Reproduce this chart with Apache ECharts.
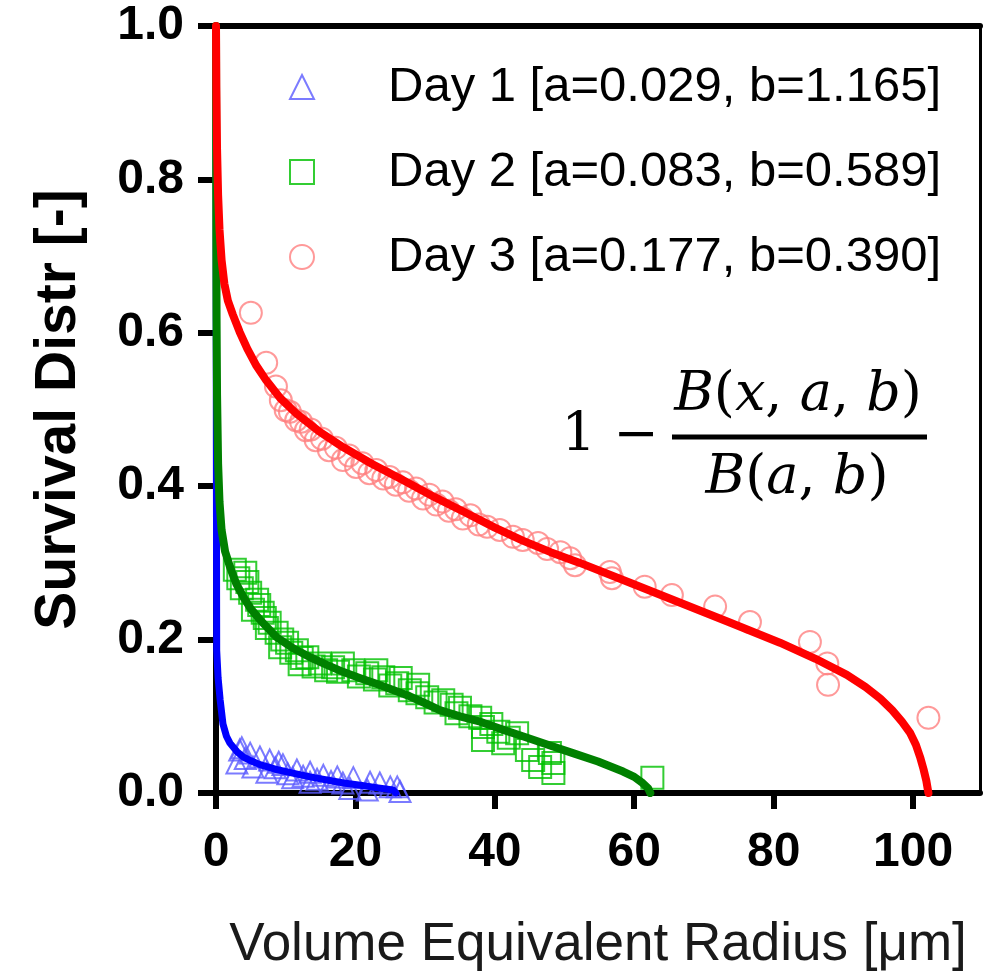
<!DOCTYPE html>
<html lang="en">
<head>
  <meta charset="utf-8">
  <title>Survival Distr</title>
  <script type="text/javascript" src="https://cdn.jsdelivr.net/npm/echarts@6/dist/echarts.min.js"></script>
  <style type="text/css">
    * { margin: 0; padding: 0; }
    html, body, #chart { width: 100%; height: 100%; overflow: hidden; background: #fff; }
  </style>
</head>
<body>
  <div id="chart"></div>
  <script type="text/javascript">
    // legend names
    var seriesNames = [
      'Day 1 [a=0.029, b=1.165]',
      'Day 2 [a=0.083, b=0.589]',
      'Day 3 [a=0.177, b=0.390]'
    ];
    var xTicks = [0, 20, 40, 60, 80, 100];

    var day1Points = [
      [3.4, 0.056], [3.7, 0.059], [3.0, 0.039], [4.2, 0.045], [4.9, 0.052], [6.3, 0.047],
      [7.7, 0.043], [5.3, 0.034], [7.3, 0.027], [8.5, 0.033], [9.0, 0.040], [9.6, 0.037],
      [10.3, 0.025], [11.6, 0.030], [11.0, 0.020], [12.5, 0.022], [13.5, 0.027], [13.5, 0.014],
      [14.5, 0.018], [15.4, 0.023], [16.5, 0.015], [17.4, 0.021], [18.2, 0.013], [19.2, 0.006],
      [19.7, 0.020], [21.7, 0.004], [22.1, 0.014], [23.5, 0.013], [25.0, 0.008], [26.0, 0.008],
      [26.4, 0.002]
    ];
    var day2Points = [
      [2.7, 0.291], [3.2, 0.280], [4.2, 0.287], [3.7, 0.267], [4.5, 0.275], [4.9, 0.261],
      [5.9, 0.252], [5.3, 0.239], [6.2, 0.245], [6.7, 0.235], [7.0, 0.228], [7.7, 0.222],
      [7.3, 0.215], [8.7, 0.209], [9.5, 0.200], [9.2, 0.190], [10.2, 0.196], [10.8, 0.183],
      [11.6, 0.186], [12.3, 0.176], [12.0, 0.168], [13.1, 0.177], [14.0, 0.165], [14.9, 0.169],
      [15.8, 0.160], [16.8, 0.164], [17.5, 0.158], [18.2, 0.169], [19.7, 0.160], [20.5, 0.152],
      [21.7, 0.156], [22.8, 0.148], [23.0, 0.160], [24.0, 0.151], [25.0, 0.140], [26.0, 0.143],
      [26.5, 0.150], [27.8, 0.134], [28.9, 0.130], [29.0, 0.141], [30.3, 0.125], [31.5, 0.118],
      [32.6, 0.121], [33.8, 0.115], [34.5, 0.104], [35.0, 0.111], [36.5, 0.100], [37.9, 0.098],
      [38.3, 0.086], [39.5, 0.090], [40.5, 0.080], [38.3, 0.069], [41.2, 0.065], [42.0, 0.072],
      [43.2, 0.078], [44.6, 0.056], [45.5, 0.043], [46.5, 0.034], [47.9, 0.052], [48.4, 0.039],
      [48.4, 0.026], [62.6, 0.020]
    ];
    var day3Points = [
      [5.0, 0.626], [7.2, 0.561], [8.6, 0.530], [9.3, 0.512], [10.0, 0.499], [10.6, 0.497],
      [11.5, 0.486], [12.2, 0.484], [12.9, 0.473], [13.6, 0.474], [14.3, 0.460], [15.2, 0.462],
      [16.2, 0.447], [17.2, 0.450], [18.2, 0.434], [19.1, 0.440], [20.1, 0.425], [21.0, 0.430],
      [22.0, 0.417], [23.0, 0.421], [24.0, 0.410], [24.9, 0.412], [25.8, 0.402], [26.8, 0.405],
      [27.7, 0.394], [28.7, 0.397], [29.7, 0.384], [30.6, 0.389], [31.6, 0.376], [32.5, 0.380],
      [33.4, 0.368], [34.4, 0.370], [35.4, 0.358], [36.5, 0.362], [37.7, 0.350], [38.9, 0.347],
      [40.7, 0.343], [42.6, 0.334], [44.0, 0.330], [46.2, 0.326], [47.5, 0.318], [49.4, 0.314],
      [50.8, 0.306], [51.5, 0.297], [56.5, 0.288], [56.8, 0.280], [61.5, 0.269], [65.4, 0.258],
      [71.6, 0.243], [76.6, 0.223], [85.2, 0.197], [87.7, 0.169], [87.8, 0.141], [102.2, 0.098]
    ];

    // fitted curves
    var day1Fit = [
      [0, 1.0], [0.02, 0.70], [0.05, 0.45], [0.1, 0.186], [0.3, 0.150], [0.6, 0.121], [1.0, 0.090],
      [1.5, 0.074], [2.0, 0.065], [3.0, 0.054], [3.9, 0.047], [5.0, 0.042], [6.3, 0.037],
      [8.5, 0.031], [11.0, 0.026], [13.5, 0.021], [15.9, 0.017], [18.3, 0.013], [20.7, 0.010],
      [23.0, 0.007], [25.4, 0.004], [25.8, 0.0]
    ];
    var day2Fit = [
      [0, 1.0], [0.03, 0.80], [0.08, 0.62], [0.15, 0.52], [0.3, 0.430], [0.5, 0.380], [0.8, 0.343],
      [1.3, 0.315], [2.0, 0.295], [2.9, 0.273], [3.9, 0.256], [5.0, 0.240], [6.3, 0.226],
      [8.7, 0.203], [11.0, 0.189], [13.5, 0.177], [15.9, 0.167], [18.2, 0.158], [20.6, 0.150],
      [23.1, 0.142], [25.5, 0.134], [27.8, 0.126], [30.0, 0.117], [32.1, 0.108], [35.0, 0.100],
      [37.9, 0.093], [41.0, 0.083], [44.0, 0.074], [47.6, 0.063], [51.2, 0.052], [54.8, 0.041],
      [58.4, 0.028], [60.0, 0.021], [61.2, 0.013], [62.0, 0.006], [62.3, 0.0]
    ];
    var day3Fit = [
      [0, 1.0], [0.05, 0.92], [0.15, 0.84], [0.3, 0.78], [0.5, 0.735], [0.8, 0.695], [1.2, 0.664],
      [1.7, 0.642], [2.4, 0.624], [3.4, 0.601], [4.5, 0.579], [5.8, 0.557], [7.2, 0.538],
      [9.2, 0.515], [11.5, 0.495], [14.7, 0.472], [18.2, 0.451], [22.4, 0.429], [26.8, 0.408],
      [31.3, 0.386], [35.9, 0.365], [40.0, 0.346], [44.0, 0.329], [48.0, 0.314], [52.2, 0.300],
      [59.4, 0.274], [66.6, 0.248], [73.8, 0.222], [80.9, 0.196], [86.0, 0.175], [90.5, 0.154],
      [93.2, 0.138], [95.3, 0.123], [97.0, 0.108], [98.4, 0.093], [99.6, 0.078], [100.4, 0.063],
      [101.0, 0.047], [101.5, 0.031], [101.9, 0.016], [102.2, 0.0]
    ];

    var pointColors = ['#5a5aff', '#00c000', '#ff8080'];
    var fitColors = ['#0000ff', '#008000', '#ff0000'];
    var symbols = ['triangle', 'rect', 'circle'];
    var pointSets = [day1Points, day2Points, day3Points];
    var fitSets = [day1Fit, day2Fit, day3Fit];

    var series = [];
    pointSets.forEach(function (pts, i) {
      series.push({
        type: 'scatter',
        name: seriesNames[i],
        data: pts,
        symbol: symbols[i],
        symbolSize: i === 0 ? 21 : 22,
        itemStyle: { color: 'rgba(0,0,0,0)', borderColor: pointColors[i], borderWidth: 2 },
        z: 2
      });
    });
    fitSets.forEach(function (pts, i) {
      series.push({
        type: 'line',
        name: 'fit' + (i + 1),
        data: pts,
        showSymbol: false,
        symbol: 'none',
        lineStyle: { color: fitColors[i], width: i === 0 ? 7 : 8, cap: 'round', join: 'round' },
        z: 3
      });
    });

    var sans = 'Liberation Sans, Arial, sans-serif';
    var boldLabel = { fontFamily: sans, fontWeight: 'bold', fontSize: 48, color: '#000' };
    var mathFont = 'DejaVu Serif, serif';
    var mathRich = {
      i: { fontFamily: mathFont, fontStyle: 'italic', fontSize: 54, fill: '#000' },
      n: { fontFamily: mathFont, fontSize: 54, fill: '#000' }
    };

    var option = {
      animation: false,
      backgroundColor: '#fff',
      grid: { left: 216, right: 3, top: 26, bottom: 179, outerBoundsMode: 'none', containLabel: false },
      legend: {
        data: seriesNames,
        orient: 'vertical',
        left: 284,
        top: 57,
        itemWidth: 24,
        itemHeight: 24,
        itemGap: 35,
        textStyle: { fontFamily: sans, fontSize: 49, color: '#000', lineHeight: 50, padding: [0, 0, 0, 69] }
      },
      xAxis: [{
        type: 'value', min: 0, max: 109.6, interval: 20,
        name: 'Volume Equivalent Radius [\u03bcm]',
        nameLocation: 'middle', nameGap: 126,
        nameTextStyle: { fontFamily: sans, fontSize: 53, color: '#1a1a1a' },
        axisLine: { onZero: false, lineStyle: { color: '#000', width: 6 } },
        axisTick: { show: true, inside: false, length: 16, lineStyle: { color: '#000', width: 6 },
          customValues: xTicks },
        axisLabel: Object.assign({ margin: 36, customValues: xTicks }, boldLabel),
        splitLine: { show: false }
      }, {
        type: 'value', min: 0, max: 109.6, position: 'top',
        axisLine: { onZero: false, lineStyle: { color: '#000', width: 6 } },
        axisTick: { show: false }, axisLabel: { show: false }, splitLine: { show: false }
      }],
      yAxis: [{
        type: 'value', min: 0, max: 1, interval: 0.2,
        name: 'Survival Distr [-]',
        nameLocation: 'middle', nameGap: 128,
        nameTextStyle: { fontFamily: sans, fontWeight: 'bold', fontSize: 57, color: '#000' },
        axisLine: { onZero: false, lineStyle: { color: '#000', width: 6 } },
        axisTick: { show: true, inside: false, length: 18, lineStyle: { color: '#000', width: 6 } },
        axisLabel: Object.assign({
          margin: 32,
          formatter: function (v) { return v.toFixed(1); }
        }, boldLabel),
        splitLine: { show: false }
      }, {
        type: 'value', min: 0, max: 1, position: 'right',
        axisLine: { onZero: false, lineStyle: { color: '#000', width: 3 } },
        axisTick: { show: false }, axisLabel: { show: false }, splitLine: { show: false }
      }],
      graphic: [
        {
          type: 'text', x: 610, y: 437,
          style: { text: '1 \u2212', fontFamily: mathFont, fontSize: 54, fill: '#000',
            align: 'center', verticalAlign: 'middle' }
        },
        {
          type: 'line',
          shape: { x1: 672, y1: 437, x2: 927, y2: 437 },
          style: { stroke: '#000', lineWidth: 5 }
        },
        {
          type: 'text', x: 798, y: 396,
          style: {
            text: '{i|B}{n|(}{i|x}{n|, }{i|a}{n|, }{i|b}{n|)}',
            rich: mathRich,
            align: 'center', verticalAlign: 'middle'
          }
        },
        {
          type: 'text', x: 797, y: 479,
          style: {
            text: '{i|B}{n|(}{i|a}{n|, }{i|b}{n|)}',
            rich: mathRich,
            align: 'center', verticalAlign: 'middle'
          }
        }
      ],
      series: series
    };

    var chart = echarts.init(document.getElementById('chart'));
    chart.setOption(option);
  </script>
</body>
</html>
